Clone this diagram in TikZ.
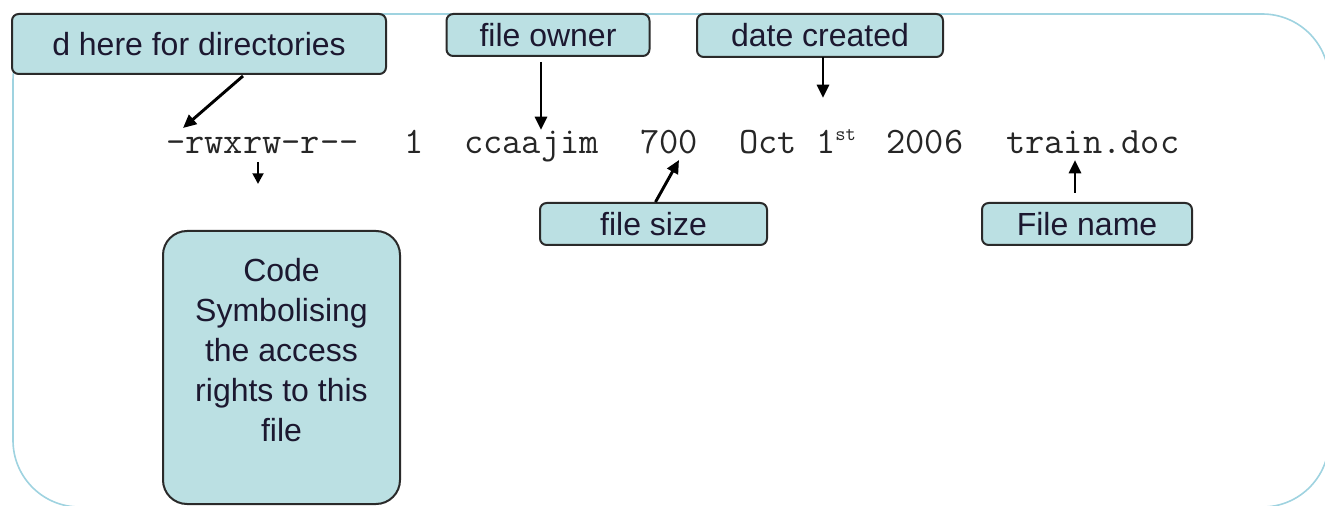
\documentclass[tikz,border=0pt]{standalone}
\usepackage{fontspec}
\setmainfont{Liberation Sans}
\usetikzlibrary{arrows.meta}
\definecolor{boxfill}{HTML}{BBE0E3}
\definecolor{boxline}{HTML}{2A2A2A}
\definecolor{framecol}{HTML}{9FD3E0}
\definecolor{labtext}{HTML}{1C1830}
\tikzset{
  lab/.style={draw=boxline, line width=1.5pt, fill=boxfill, rounded corners=5pt,
    text=labtext, font=\fontsize{24}{28}\selectfont, inner sep=0pt, anchor=center},
  codetext/.style={font=\ttfamily\fontsize{28}{32}\selectfont, anchor=base west, inner sep=0pt, text=black!85},
  pointer/.style={line width=2.2pt, -{Triangle[length=10pt,width=9pt]}},
  framebox/.style={draw=framecol, line width=1.2pt, rounded corners=50pt}
}
\begin{document}
\begin{tikzpicture}[x=0.75pt,y=-0.75pt]
\useasboundingbox (0,0) rectangle (1325,506);
% outer frame
\draw[framebox] (13,14) rectangle (1329,507);

% listing line
\node[codetext] (perm) at (166,154) {-rwxrw-r--};
\node[codetext] (links) at (404,154) {1};
\node[codetext] (owner) at (464,154) {ccaajim};
\node[codetext] (size) at (640,154) {700};
\node[codetext] (date) at (739,154) {Oct 1\raisebox{0.35em}{\fontsize{15}{15}\selectfont st}\hspace{0.3em} 2006};
\node[codetext] (fname) at (1006,154) {train.doc};

% labels
\node[lab, minimum width=374*0.75pt, minimum height=60*0.75pt] (dlab) at (199,44) {d here for directories};
\node[lab, minimum width=203*0.75pt, minimum height=42*0.75pt] (olab) at (548,35) {file owner};
\node[lab, minimum width=246*0.75pt, minimum height=43*0.75pt] (clab) at (820,35.5) {date created};
\node[lab, minimum width=227*0.75pt, minimum height=42*0.75pt] (slab) at (653.5,224) {file size};
\node[lab, minimum width=210*0.75pt, minimum height=42*0.75pt] (nlab) at (1087,224) {File name};
\node[lab, rounded corners=18pt, minimum width=237*0.75pt, minimum height=273*0.75pt,
  anchor=north] (acc) at (281.5,230) {};
\node[text=labtext, font=\fontsize{24}{30}\selectfont, align=center, anchor=north, inner sep=0pt] (acctext) at (281.5,258)
  {Code\\Symbolising\\the access\\rights to this\\file};

% connectors
\coordinate (dA) at (243,76);
\coordinate (dB) at (183,128);
\draw[pointer] (dA) -- (dB);
\coordinate (oA) at (541,62);
\coordinate (oB) at (541,130);
\draw[pointer] (oA) -- (oB);
\coordinate (cA) at (823,57);
\coordinate (cB) at (823,98);
\draw[pointer] (cA) -- (cB);
\coordinate (pA) at (258,162);
\coordinate (pB) at (258,184);
\draw[line width=2pt, -{Triangle[length=8pt,width=8pt]}] (pA) -- (pB);
\coordinate (sB) at (679,160);
\draw[pointer] (slab.north) ++(2,0) coordinate (sA) -- (sB);
\coordinate (nA) at (1075,193);
\coordinate (nB) at (1075,160);
\draw[pointer] (nA) -- (nB);
\end{tikzpicture}
\end{document}
